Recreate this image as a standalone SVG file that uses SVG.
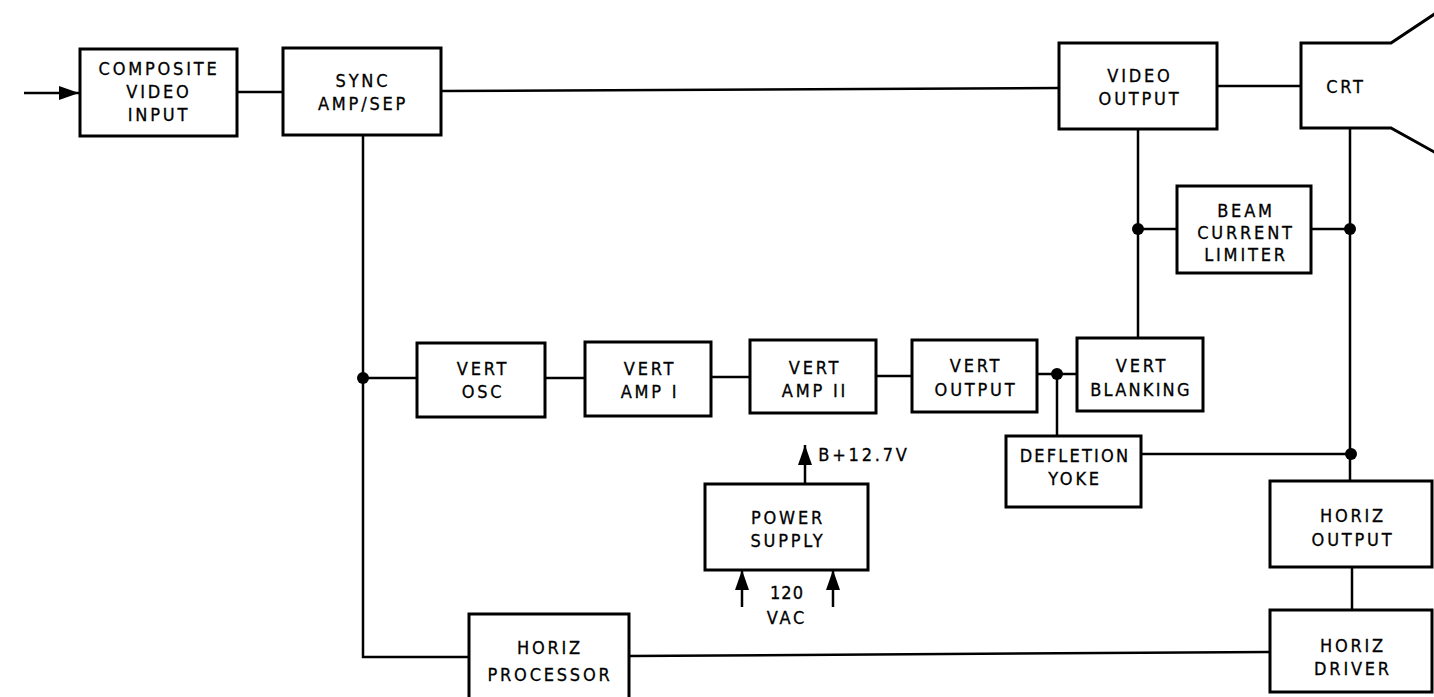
<svg xmlns="http://www.w3.org/2000/svg" width="1434" height="697" viewBox="0 0 1434 697">
<style>
.box{fill:#fff;stroke:#000;stroke-width:3}
.ln{fill:none;stroke:#000;stroke-width:2.5}
.dot{fill:#000}
text{font-family:"DejaVu Sans Condensed","DejaVu Sans",sans-serif;font-size:18px;letter-spacing:2.8px;text-anchor:middle;fill:#000;stroke:#000;stroke-width:0.3}
</style>
<defs>
<marker id="ah" viewBox="0 0 20 14" refX="20" refY="7" markerWidth="20" markerHeight="14" markerUnits="userSpaceOnUse" orient="auto">
<path d="M0,0 L20,7 L0,14 Z" fill="#000"/>
</marker>
</defs>
<g id="connectors">
<line class="ln" x1="24" y1="93" x2="79" y2="93" marker-end="url(#ah)"/>
<line class="ln" x1="237" y1="92" x2="283" y2="92"/>
<line class="ln" x1="441" y1="91" x2="1059" y2="88"/>
<line class="ln" x1="1217" y1="86" x2="1301" y2="86"/>
<polyline class="ln" points="363,135 363,657 469,657"/>
<line class="ln" x1="363" y1="378" x2="417" y2="378"/>
<line class="ln" x1="545" y1="378" x2="585" y2="378"/>
<line class="ln" x1="711" y1="377" x2="750" y2="377"/>
<line class="ln" x1="876" y1="376" x2="912" y2="376"/>
<line class="ln" x1="1037" y1="374" x2="1077" y2="374"/>
<line class="ln" x1="1057" y1="374" x2="1057" y2="436"/>
<line class="ln" x1="1138" y1="129" x2="1138" y2="338"/>
<line class="ln" x1="1138" y1="229" x2="1177" y2="229"/>
<line class="ln" x1="1311" y1="229" x2="1350" y2="229"/>
<line class="ln" x1="1350" y1="128" x2="1350" y2="481"/>
<line class="ln" x1="1141" y1="454" x2="1350" y2="454"/>
<line class="ln" x1="1352" y1="567" x2="1352" y2="610"/>
<line class="ln" x1="629" y1="656" x2="1270" y2="652"/>
<line class="ln" x1="805" y1="484" x2="805" y2="445" marker-end="url(#ah)"/>
<line class="ln" x1="742" y1="607" x2="742" y2="570" marker-end="url(#ah)"/>
<line class="ln" x1="833" y1="607" x2="833" y2="570" marker-end="url(#ah)"/>
<circle class="dot" cx="363" cy="378" r="6"/>
<circle class="dot" cx="1057" cy="374" r="6"/>
<circle class="dot" cx="1138" cy="229" r="6"/>
<circle class="dot" cx="1350" cy="229" r="6"/>
<circle class="dot" cx="1351" cy="454" r="6"/>
</g>
<g id="composite">
<rect class="box" x="80" y="49" width="157" height="87"/>
<text x="159" y="75">COMPOSITE</text>
<text x="159" y="98">VIDEO</text>
<text x="159" y="121">INPUT</text>
</g>
<g id="sync">
<rect class="box" x="283" y="48" width="158" height="87"/>
<text x="363" y="87">SYNC</text>
<text x="363" y="110">AMP/SEP</text>
</g>
<g id="video-output">
<rect class="box" x="1059" y="43" width="158" height="86"/>
<text x="1140" y="82">VIDEO</text>
<text x="1140" y="105">OUTPUT</text>
</g>
<g id="crt">
<polyline class="ln" style="stroke-width:3" points="1436,13 1391,43 1301,43 1301,128 1391,128 1436,153"/>
<text x="1346" y="93">CRT</text>
</g>
<g id="beam">
<rect class="box" x="1177" y="186" width="134" height="87"/>
<text x="1246" y="217">BEAM</text>
<text x="1246" y="239">CURRENT</text>
<text x="1246" y="261">LIMITER</text>
</g>
<g id="vert-osc">
<rect class="box" x="417" y="343" width="128" height="74"/>
<text x="483" y="375">VERT</text>
<text x="483" y="398">OSC</text>
</g>
<g id="vert-amp1">
<rect class="box" x="585" y="342" width="126" height="74"/>
<text x="650" y="375">VERT</text>
<text x="650" y="398">AMP I</text>
</g>
<g id="vert-amp2">
<rect class="box" x="750" y="340" width="126" height="73"/>
<text x="815" y="374">VERT</text>
<text x="815" y="397">AMP II</text>
</g>
<g id="vert-output">
<rect class="box" x="912" y="340" width="125" height="72"/>
<text x="976" y="372">VERT</text>
<text x="976" y="396">OUTPUT</text>
</g>
<g id="vert-blanking">
<rect class="box" x="1077" y="338" width="126" height="73"/>
<text x="1142" y="372">VERT</text>
<text x="1141" y="396" style="letter-spacing:2.2px">BLANKING</text>
</g>
<g id="yoke">
<rect class="box" x="1006" y="436" width="135" height="71"/>
<text x="1075" y="462" style="letter-spacing:2.2px">DEFLETION</text>
<text x="1075" y="485">YOKE</text>
</g>
<g id="power-supply">
<rect class="box" x="705" y="484" width="163" height="86"/>
<text x="788" y="524">POWER</text>
<text x="788" y="547">SUPPLY</text>
<text x="864" y="461">B+12.7V</text>
<text x="787" y="599" style="letter-spacing:1px">120</text>
<text x="787" y="624">VAC</text>
</g>
<g id="horiz-output">
<rect class="box" x="1270" y="481" width="162" height="86"/>
<text x="1353" y="522">HORIZ</text>
<text x="1353" y="546">OUTPUT</text>
</g>
<g id="horiz-driver">
<rect class="box" x="1270" y="610" width="162" height="82"/>
<text x="1353" y="652">HORIZ</text>
<text x="1353" y="675">DRIVER</text>
</g>
<g id="horiz-processor">
<rect class="box" x="469" y="614" width="160" height="86"/>
<text x="550" y="654">HORIZ</text>
<text x="550" y="681">PROCESSOR</text>
</g>
</svg>
